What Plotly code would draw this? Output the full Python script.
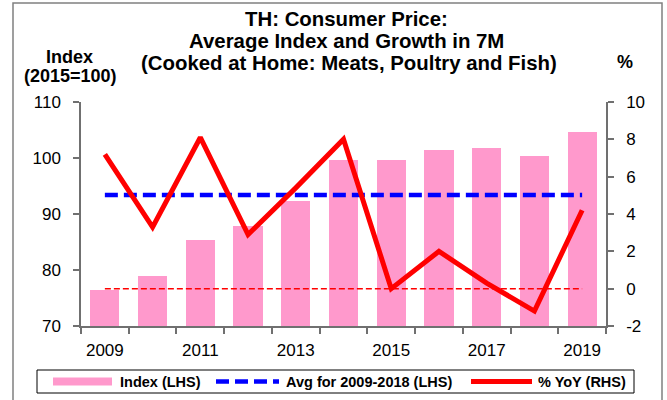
import plotly.graph_objects as go

# Calendar years (Jan-Jul averages)
years = [2009, 2010, 2011, 2012, 2013, 2014, 2015, 2016, 2017, 2018, 2019]

# Average consumer price index, cooked at home: meats, poultry and fish (2015=100)
index_lhs = [76.5, 79.0, 85.4, 87.8, 92.3, 99.7, 99.6, 101.5, 101.7, 100.4, 104.6]

# Year-on-year growth, %
yoy_rhs = [7.2, 3.3, 8.1, 2.9, 5.4, 8.0, 0.0, 2.0, 0.3, -1.2, 4.2]

# Average level for 2009-2018 on the index axis
avg_2009_2018 = 93.4
avg_line = [avg_2009_2018] * len(years)
zero_line = [0] * len(years)

x_ticks = [2009, 2011, 2013, 2015, 2017, 2019]
lhs_ticks = [70, 80, 90, 100, 110]
rhs_ticks = [-2, 0, 2, 4, 6, 8, 10]
rhs_tick_text = ["-2", "0", "2", "4", "6", "8", "10"]

FONT = "Liberation Sans, Arial, sans-serif"
PINK = "#FF99CC"
BLUE = "#0000FF"
RED = "#FF0000"
AXIS = "#707070"

W, H = 667, 400
L, R, T, B = 81, 61, 102, 74
PW, PH = W - L - R, H - T - B


def px(x):
    return (x - L) / PW


def py(y):
    return (H - B - y) / PH


fig = go.Figure()

fig.add_trace(go.Bar(
    x=years, y=index_lhs, width=0.61,
    marker=dict(color=PINK, line=dict(width=0)),
    name="Index (LHS)", showlegend=False, yaxis="y",
))
fig.add_trace(go.Scatter(
    x=years, y=zero_line, mode="lines",
    line=dict(color=RED, width=1.5, dash="6px,3px"),
    showlegend=False, yaxis="y2", hoverinfo="skip",
))
fig.add_trace(go.Scatter(
    x=years, y=avg_line, mode="lines",
    line=dict(color=BLUE, width=4.5, dash="13px,6px"),
    name="Avg for 2009-2018 (LHS)", showlegend=False, yaxis="y",
))
fig.add_trace(go.Scatter(
    x=years, y=yoy_rhs, mode="lines",
    line=dict(color=RED, width=5),
    name="% YoY (RHS)", showlegend=False, yaxis="y2",
))

shapes = [
    # outer frame
    dict(type="rect", xref="paper", yref="paper",
         x0=px(13), x1=px(662), y0=py(3), y1=py(410),
         line=dict(color="#808080", width=1.5), fillcolor="rgba(0,0,0,0)", layer="below"),
    # legend box
    dict(type="rect", xref="paper", yref="paper",
         x0=px(37), x1=px(634), y0=py(370), y1=py(393),
         line=dict(color="#000000", width=1), fillcolor="white"),
    dict(type="line", xref="paper", yref="paper",
         x0=px(53), x1=px(112), y0=py(381.5), y1=py(381.5),
         line=dict(color=PINK, width=8)),
    dict(type="line", xref="paper", yref="paper",
         x0=px(216), x1=px(279), y0=py(381.5), y1=py(381.5),
         line=dict(color=BLUE, width=4.5, dash="13px,6px")),
    dict(type="line", xref="paper", yref="paper",
         x0=px(471), x1=px(532), y0=py(381.5), y1=py(381.5),
         line=dict(color=RED, width=5)),
]

def label(text, x, y, size, xanchor="center", bold=True):
    return dict(
        text=f"<b>{text}</b>" if bold else text,
        xref="paper", yref="paper", x=px(x), y=py(y),
        xanchor=xanchor, yanchor="middle", showarrow=False,
        font=dict(family=FONT, size=size, color="black"),
    )

annotations = [
    label("TH: Consumer Price:", 346, 19, 20.4),
    label("Average Index and Growth in 7M", 346, 41.5, 20.4),
    label("(Cooked at Home: Meats, Poultry and Fish)", 349, 63, 20.4),
    label("Index", 69, 56.5, 18),
    label("(2015=100)", 70, 76.5, 18),
    label("%", 625, 62.5, 18),
    label("Index (LHS)", 118, 381.5, 14.5, xanchor="left"),
    label("Avg for 2009-2018 (LHS)", 284, 381.5, 14.5, xanchor="left"),
    label("% YoY (RHS)", 536, 381.5, 14.5, xanchor="left"),
]

tick_font = dict(family=FONT, size=17, color="black")

fig.update_layout(
    width=W, height=H,
    margin=dict(l=L, r=R, t=T, b=B, pad=0),
    paper_bgcolor="white", plot_bgcolor="white",
    showlegend=False,
    bargap=0,
    xaxis=dict(
        range=[2008.5, 2019.5], tickmode="array", tickvals=x_ticks,
        ticks="outside", ticklen=5, tickcolor="rgba(0,0,0,0)",
        ticklabelstandoff=3,
        minor=dict(tick0=2008.5, dtick=1, ticks="outside", ticklen=6,
                   tickwidth=1.5, tickcolor=AXIS, showgrid=False),
        showline=True, linecolor=AXIS, linewidth=1.5,
        showgrid=False, zeroline=False, tickfont=tick_font,
    ),
    yaxis=dict(
        range=[70, 110], tickmode="array", tickvals=lhs_ticks,
        ticks="outside", ticklen=6, tickwidth=1.5,
        tickcolor=AXIS, showline=True, linecolor=AXIS, linewidth=1.5,
        showgrid=False, zeroline=False, tickfont=tick_font,
        ticklabelstandoff=9,
    ),
    yaxis2=dict(
        range=[-2, 10], tickmode="array", tickvals=rhs_ticks, ticktext=rhs_tick_text,
        overlaying="y", side="right",
        ticks="outside", ticklen=6, tickwidth=1.5, tickcolor=AXIS,
        showline=True, linecolor=AXIS, linewidth=1.5,
        showgrid=False, zeroline=False, tickfont=tick_font,
        ticklabelstandoff=9,
    ),
    shapes=shapes,
    annotations=annotations,
)

fig.write_html("out.html")
